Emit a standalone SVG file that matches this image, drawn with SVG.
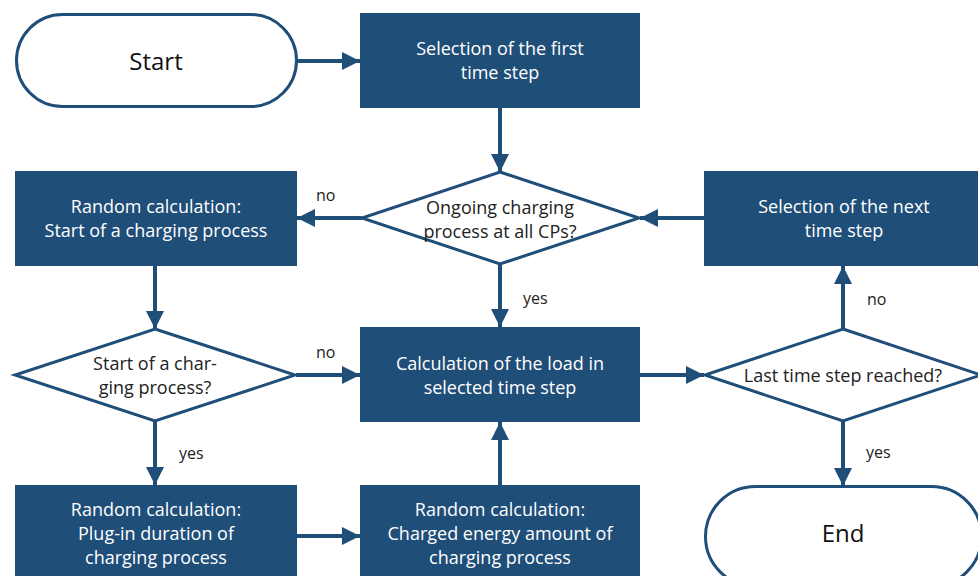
<svg xmlns="http://www.w3.org/2000/svg" width="978" height="576" viewBox="0 0 978 576">
<defs>
<marker id="ah" markerUnits="userSpaceOnUse" markerWidth="20" markerHeight="20" viewBox="0 0 20 20" refX="19" refY="10" orient="auto">
<path d="M1,1 L19,10 L1,19 Z" fill="#1F4E79"/>
</marker>
<style>
.box{fill:#1F4E79;}
.term,.dia{fill:#fff;stroke:#1F4E79;stroke-width:3;}
.bt{font-family:"Open Sans","Noto Sans",sans-serif;font-size:18px;fill:#fff;text-anchor:middle;}
.dt{font-family:"Open Sans","Noto Sans",sans-serif;font-size:18px;fill:#222;text-anchor:middle;}
.tt{font-family:"Open Sans","Noto Sans",sans-serif;font-size:24px;fill:#111;text-anchor:middle;}
.lb{font-family:"Open Sans","Noto Sans",sans-serif;font-size:16px;fill:#222;}
.c{stroke:#1F4E79;stroke-width:4;fill:none;marker-end:url(#ah);}
</style>
</defs>
<g id="connectors">
<line class="c" x1="297" y1="61" x2="360" y2="61"/>
<line class="c" x1="500" y1="108" x2="500" y2="172"/>
<line class="c" x1="362" y1="218" x2="297" y2="218"/>
<line class="c" x1="704" y1="218" x2="640" y2="218"/>
<line class="c" x1="500" y1="264" x2="500" y2="327"/>
<line class="c" x1="155" y1="266" x2="155" y2="329"/>
<line class="c" x1="296" y1="375" x2="360" y2="375"/>
<line class="c" x1="155" y1="421" x2="155" y2="485"/>
<line class="c" x1="297" y1="536" x2="360" y2="536"/>
<line class="c" x1="500" y1="485" x2="500" y2="422"/>
<line class="c" x1="640" y1="375" x2="704" y2="375"/>
<line class="c" x1="843" y1="329" x2="843" y2="266"/>
<line class="c" x1="843" y1="421" x2="843" y2="486"/>
<text class="lb" x="316" y="201">no</text>
<text class="lb" x="523" y="304">yes</text>
<text class="lb" x="316" y="358">no</text>
<text class="lb" x="179" y="459">yes</text>
<text class="lb" x="867" y="305">no</text>
<text class="lb" x="866" y="458">yes</text>
</g>
<g id="start">
<rect class="term" x="16.5" y="14.5" width="280" height="92" rx="46" ry="46"/>
<text class="tt" x="156" y="70">Start</text>
</g>
<g id="first-step">
<rect class="box" x="360" y="13" width="280" height="95"/>
<text class="bt" x="500" y="55">Selection of the first</text>
<text class="bt" x="500" y="79">time step</text>
</g>
<g id="ongoing">
<polygon class="dia" points="500,172 639,218 500,264 362,218"/>
<text class="dt" x="500" y="214">Ongoing charging</text>
<text class="dt" x="500" y="238">process at all CPs?</text>
</g>
<g id="random-start">
<rect class="box" x="15" y="171" width="282" height="95"/>
<text class="bt" x="156" y="213">Random calculation:</text>
<text class="bt" x="156" y="237">Start of a charging process</text>
</g>
<g id="next-step">
<rect class="box" x="704" y="171" width="280" height="95"/>
<text class="bt" x="844" y="213">Selection of the next</text>
<text class="bt" x="844" y="237">time step</text>
</g>
<g id="start-q">
<polygon class="dia" points="155,329 295,375 155,421 15,375"/>
<text class="dt" x="155" y="370">Start of a char-</text>
<text class="dt" x="155" y="394">ging process?</text>
</g>
<g id="calc-load">
<rect class="box" x="360" y="327" width="280" height="95"/>
<text class="bt" x="500" y="370">Calculation of the load in</text>
<text class="bt" x="500" y="394">selected time step</text>
</g>
<g id="last-q">
<polygon class="dia" points="843,329 981,375 843,421 705,375"/>
<text class="dt" x="843" y="382">Last time step reached?</text>
</g>
<g id="plug-in">
<rect class="box" x="15" y="485" width="282" height="95"/>
<text class="bt" x="156" y="516">Random calculation:</text>
<text class="bt" x="156" y="540">Plug-in duration of</text>
<text class="bt" x="156" y="564">charging process</text>
</g>
<g id="energy">
<rect class="box" x="360" y="485" width="280" height="95"/>
<text class="bt" x="500" y="516">Random calculation:</text>
<text class="bt" x="500" y="540">Charged energy amount of</text>
<text class="bt" x="500" y="564">charging process</text>
</g>
<g id="end">
<rect class="term" x="705.5" y="486.5" width="276" height="100" rx="50" ry="50"/>
<text class="tt" x="843" y="542">End</text>
</g>
</svg>
